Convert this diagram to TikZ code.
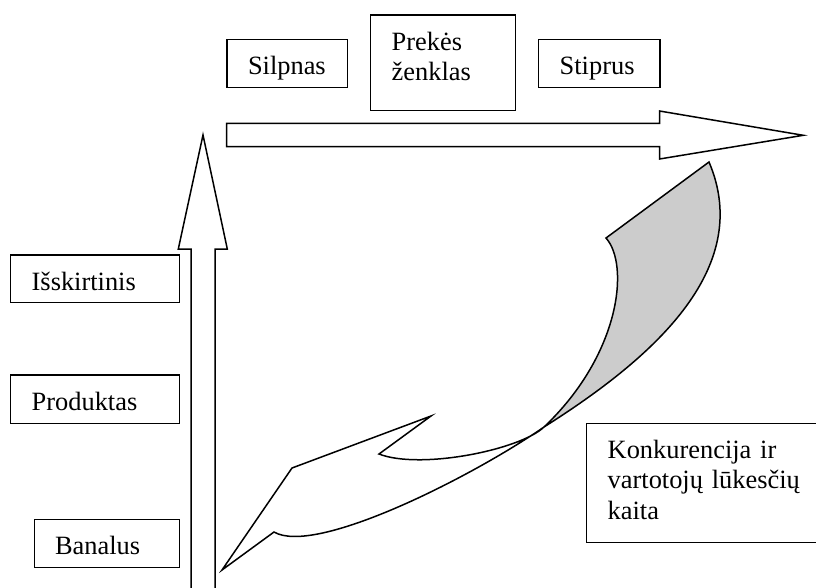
\documentclass[tikz,border=0pt]{standalone}
\usepackage{fontspec}
\setmainfont{Liberation Serif}
\usepackage{tikz}

\begin{document}
\begin{tikzpicture}[x=1pt, y=-1pt,
        outline/.style={draw=black, line width=1.5pt},
        txtbox/.style={outline, anchor=north west, align=left, outer sep=0pt,
            inner xsep=21pt, inner ysep=0pt, text height=35pt,
            font=\fontsize{26.4}{30.6}\selectfont},
    ]
        \useasboundingbox (0,0) rectangle (816,587);
        \clip (0,0) rectangle (816,587);

        % top labels
        \node [txtbox, text width=78.3pt, text depth=13pt] (silpnas) at (227,39.3) {Silpnas};
        \node [txtbox, text width=103pt, text depth=60.7pt] (zenklas) at (370.7,15) {Prekės\\ženklas};
        \node [txtbox, text width=79.3pt, text depth=13pt] (stiprus) at (538.7,39.3) {Stiprus};

        % left labels
        \node [txtbox, text width=126.6pt, text depth=12.7pt] (isskirtinis) at (10.7,255) {Išskirtinis};
        \node [txtbox, text width=126.6pt, text depth=13.3pt] (produktas) at (10.7,375) {Produktas};
        \node [txtbox, text width=103.6pt, text depth=13.4pt, inner xsep=20.7pt] (banalus) at (34.3,519.3) {Banalus};

        \node [txtbox, text width=240pt, text depth=84.4pt] (kaita) at (586.7,423.3) {Konkurencija ir\\vartotojų lūkesčių\\kaita};

        % axes
        \draw [outline] (226.7,123.3) -- (659.5,123.3) -- (659.5,111) -- (803.3,135.3)
            -- (659.5,159) -- (659.5,146.7) -- (226.7,146.7) -- cycle;
        \draw [outline] (215,600) -- (215,249) -- (227.3,249) -- (203,135)
            -- (178.3,249) -- (191,249) -- (191,600) -- cycle;

        % curl
        \coordinate (barb) at (274,532);
        \coordinate (cross) at (544,427);
        \coordinate (curltop) at (709,162);
        \coordinate (corner) at (606,238);
        \coordinate (notch) at (379,454);
        \coordinate (fin) at (431,416);
        \coordinate (wing) at (292,468);
        \coordinate (tip) at (222,570);

        \fill [black!20] (cross) .. controls (650,360) and (755,270) .. (curltop) -- (corner)
            .. controls (630,265) and (620,355) .. (cross) -- cycle;
        \draw [outline] (barb) .. controls (315,556) and (470,478) .. (cross)
            .. controls (650,360) and (755,270) .. (curltop) -- (corner)
            .. controls (630,265) and (620,355) .. (cross)
            .. controls (520,450) and (420,470) .. (notch) -- (fin) -- (wing) -- (tip) -- cycle;
    \end{tikzpicture}
\end{document}
